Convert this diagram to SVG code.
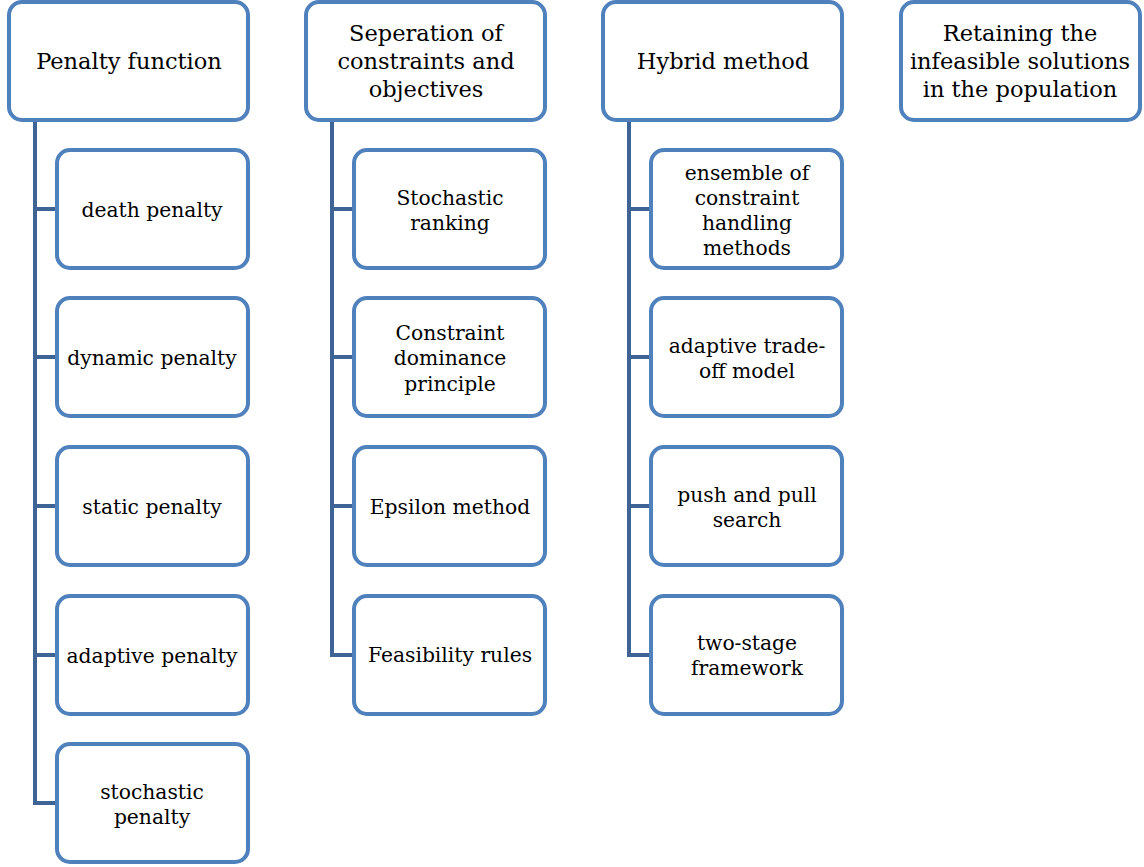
<svg xmlns="http://www.w3.org/2000/svg" width="1144" height="867" viewBox="0 0 1144 867">
<style>
.box{fill:#fff;stroke:#4F81BD;stroke-width:4}
.con{stroke:#3E6395;stroke-width:4;fill:none}
text{font-family:"DejaVu Serif","Liberation Serif",serif;fill:#000;text-anchor:middle}
.t{font-size:22.5px}
.c{font-size:20.3px}
</style>
<rect width="1144" height="867" fill="#fff"/>
<g id="connectors">
<path class="con" d="M35 120V803H57M35 209H57M35 357H57M35 506H57M35 655H57"/>
<path class="con" d="M332 120V655H354M332 209H354M332 357H354M332 506H354"/>
<path class="con" d="M629 120V655H651M629 209H651M629 357H651M629 506H651"/>
</g>
<g id="penalty"><rect class="box" x="9" y="2" width="239" height="118" rx="13"/><text class="t" x="129" y="69">Penalty function</text></g>
<g id="death"><rect class="box" x="57" y="150" width="191" height="118" rx="13"/><text class="c" x="152" y="217">death penalty</text></g>
<g id="dynamic"><rect class="box" x="57" y="298" width="191" height="118" rx="13"/><text class="c" x="152" y="365">dynamic penalty</text></g>
<g id="static"><rect class="box" x="57" y="447" width="191" height="118" rx="13"/><text class="c" x="152" y="514">static penalty</text></g>
<g id="adaptive"><rect class="box" x="57" y="596" width="191" height="118" rx="13"/><text class="c" x="152" y="663">adaptive penalty</text></g>
<g id="stochasticp"><rect class="box" x="57" y="744" width="191" height="118" rx="13"/><text class="c" x="152" y="799">stochastic</text><text class="c" x="152" y="824">penalty</text></g>

<g id="separation"><rect class="box" x="306" y="2" width="239" height="118" rx="13"/><text class="t" x="426" y="41">Seperation of</text><text class="t" x="426" y="69">constraints and</text><text class="t" x="426" y="97">objectives</text></g>
<g id="stochr"><rect class="box" x="354" y="150" width="191" height="118" rx="13"/><text class="c" x="450" y="205">Stochastic</text><text class="c" x="450" y="230">ranking</text></g>
<g id="cdp"><rect class="box" x="354" y="298" width="191" height="118" rx="13"/><text class="c" x="450" y="340">Constraint</text><text class="c" x="450" y="365">dominance</text><text class="c" x="450" y="391">principle</text></g>
<g id="eps"><rect class="box" x="354" y="447" width="191" height="118" rx="13"/><text class="c" x="450" y="514">Epsilon method</text></g>
<g id="feas"><rect class="box" x="354" y="596" width="191" height="118" rx="13"/><text class="c" x="450" y="662">Feasibility rules</text></g>

<g id="hybrid"><rect class="box" x="603" y="2" width="239" height="118" rx="13"/><text class="t" x="723" y="69">Hybrid method</text></g>
<g id="ensemble"><rect class="box" x="651" y="150" width="191" height="118" rx="13"/><text class="c" x="747" y="180">ensemble of</text><text class="c" x="747" y="205">constraint</text><text class="c" x="747" y="230">handling</text><text class="c" x="747" y="255">methods</text></g>
<g id="atm"><rect class="box" x="651" y="298" width="191" height="118" rx="13"/><text class="c" x="747" y="353">adaptive trade-</text><text class="c" x="747" y="378">off model</text></g>
<g id="push"><rect class="box" x="651" y="447" width="191" height="118" rx="13"/><text class="c" x="747" y="502">push and pull</text><text class="c" x="747" y="527">search</text></g>
<g id="twostage"><rect class="box" x="651" y="596" width="191" height="118" rx="13"/><text class="c" x="747" y="650">two-stage</text><text class="c" x="747" y="675">framework</text></g>

<g id="retaining"><rect class="box" x="901" y="2" width="239" height="118" rx="13"/><text class="t" x="1020" y="41">Retaining the</text><text class="t" x="1020" y="69">infeasible solutions</text><text class="t" x="1020" y="97">in the population</text></g>
</svg>
